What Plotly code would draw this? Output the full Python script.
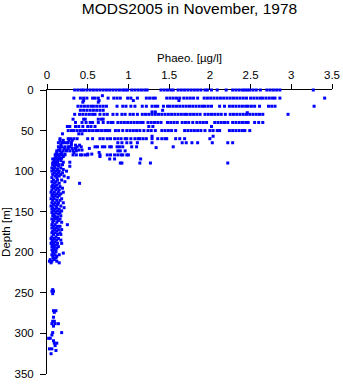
import plotly.graph_objects as go

# ---- data: Phaeo. [ug/l] at sampled depths [m] ----
phaeo_00m = [0.34,0.38,0.42,0.45,0.49,0.53,0.57,0.61,0.65,0.69,0.73,0.77,0.81,0.85,0.89,0.93,0.96,0.99,1.04,
             1.08,1.12,1.16,1.20,1.23,1.40,1.44,1.48,1.52,1.55,1.61,1.65,1.69,1.73,1.77,1.81,1.85,1.89,1.94,
             1.97,2.02,2.09,2.20,2.28,2.32,2.36,2.40,2.43,2.46,2.49,2.53,2.57,2.62,2.70,2.74,2.78,2.82,2.86,3.27]
phaeo_07m = [0.68]
phaeo_10m = [0.33,0.41,0.45,0.49,0.56,0.59,0.63,0.75,0.82,0.86,0.90,0.99,1.03,1.11,1.22,1.26,1.30,1.33,1.47,
             1.51,1.55,1.59,1.63,1.68,1.72,1.76,1.80,1.85,1.93,1.97,2.01,2.05,2.09,2.13,2.17,2.21,2.25,2.29,
             2.33,2.37,2.41,2.45,2.50,2.54,2.58,2.62,2.65,2.69,2.73,2.77,2.80,2.86,3.41]
phaeo_13m = [0.45,0.64,1.06,1.62]
phaeo_15m = [0.44,0.63]
phaeo_20m = [0.38,0.42,0.46,0.50,0.54,0.57,0.61,0.65,0.69,0.73,0.86,0.93,0.97,1.03,1.08,1.17,1.22,1.29,1.33,
             1.36,1.43,1.48,1.51,1.55,1.59,1.63,1.67,1.71,1.75,1.79,1.83,1.87,1.91,1.94,1.98,2.02,2.12,2.18,
             2.24,2.28,2.32,2.36,2.40,2.44,2.47,2.51,2.55,2.61,2.72,2.76,2.80,3.28]
phaeo_25m = [0.41,0.45,0.49,0.53,0.57,0.61,0.65,0.69,1.42]
phaeo_27m = [1.29,1.33]
phaeo_28m = [2.46]
phaeo_30m = [0.34,0.40,0.44,0.48,0.52,0.56,0.59,0.65,0.70,0.74,0.81,0.86,0.92,0.96,1.02,1.06,1.11,1.17,1.21,
             1.25,1.29,1.33,1.37,1.41,1.45,1.49,1.53,1.57,1.61,1.65,1.69,1.72,1.76,1.80,1.84,1.88,1.94,1.98,
             2.02,2.06,2.10,2.14,2.19,2.25,2.29,2.33,2.37,2.41,2.45,2.49,2.53,2.57,2.61,2.65,2.96]
phaeo_36m = [0.32,0.45,0.47,0.63,0.67,0.69]
phaeo_40m = [0.35,0.43,0.48,0.53,0.56,0.63,0.69,0.75,0.79,0.81,0.87,0.91,0.95,0.99,1.03,1.07,1.11,1.15,1.18,
             1.24,1.28,1.32,1.36,1.40,1.48,1.52,1.56,1.60,1.66,1.70,1.74,1.79,1.84,1.88,1.92,1.96,2.06,2.10,
             2.14,2.18,2.22,2.28,2.32,2.36,2.40,2.44,2.47,2.55,2.60,2.65]
phaeo_45m = [0.25,0.28,0.35,0.39,0.44,0.50,0.54,0.59,1.25,1.30,2.02]
phaeo_50m = [0.26,0.30,0.33,0.37,0.41,0.45,0.48,0.52,0.56,0.60,0.63,0.67,0.71,0.74,0.77,0.84,0.88,0.93,0.98,
             1.02,1.06,1.10,1.14,1.19,1.24,1.28,1.33,1.41,1.45,1.49,1.53,1.58,1.69,1.73,1.77,1.81,1.85,1.89,
             1.94,2.00,2.04,2.09,2.12,2.24,2.28,2.32,2.36,2.40,2.43,2.49]
phaeo_54m = [0.19,0.39,0.43]
phaeo_57m = [1.29,2.04]
phaeo_60m = [0.16,0.26,0.29,0.33,0.37,0.50,0.56,0.65,0.69,0.74,0.78,0.83,0.87,0.91,0.96,0.98,1.03,1.08,1.12,
             1.14,1.18,1.22,1.29,1.36,1.41,1.45,1.47,1.58,1.63,1.69,2.00]
phaeo_65m = [0.14,0.18,0.22,0.26,0.30,0.87,0.92,0.98,1.03,1.11,1.29,1.66,1.71,1.78,1.85,2.03,2.22,2.28]
phaeo_70m = [0.14,0.18,0.22,0.26,0.28,0.37,0.42,0.59,0.62,0.68,0.71,0.77,0.79,0.86,0.89,0.93,1.04,1.10,1.55]
phaeo_71m = [1.34]
phaeo_75m = [0.12,0.16,0.20,0.24,0.28,0.32,0.36,0.87,0.90,0.96]
phaeo_80m = [0.10,0.14,0.18,0.22,0.32,0.36,0.41,0.43,0.47,0.50,0.65,0.74,0.78,0.83,0.87,0.91,0.93,0.98,1.00]
phaeo_85m = [0.07,0.11,0.16,0.77,0.83,1.15]
phaeo_90m = [0.07,0.10,0.13,0.90,0.92,1.14,1.27,2.22]

# deeper profile samples: depth and the Phaeo. values found at that depth
deep_depths = [62,65,68,72,74,77,79,82,84,87,89,
               92,94,96,98,100,102,104,106,108,111,113,115,117,119,121,123,126,128,130,132,134,136,
               139,141,143,145,147,149,151,153,155,157,159,161,163,166,168,170,172,174,176,178,181,
               183,185,187,189,191,193,195,197,199,201,203,205,207,209,211,213,
               246,248,251,272,274,280,285,288,291,299,302,306,309,312,315,319,321,325]
deep_values = [[0.16,0.20,0.27,0.31],[0.19,0.25],[0.17,0.30,0.35,0.40],[0.16,0.21,0.26,0.31,0.35,0.52],
               [0.14,0.24,0.39,0.43],[0.12,0.18,0.33,0.64],[0.11,0.16,0.22,0.50,0.55],[0.11,0.15,0.20,0.65],
               [0.10,0.14,0.18],[0.09,0.13,0.17],[0.08,0.12,0.20,0.28],
               [0.07,0.11,0.15,0.19],[0.09,0.14,0.28],[0.06,0.10,0.17],[0.08,0.13,0.20],[0.06,0.11,0.15,0.24],
               [0.09,0.14,0.19],[0.07,0.12,0.17],[0.10,0.15,0.21],[0.06,0.12,0.26],[0.08,0.13,0.18],
               [0.06,0.11,0.22],[0.09,0.15,0.40],[0.07,0.12],[0.06,0.10,0.16],[0.08,0.13,0.19],
               [0.06,0.11,0.15],[0.05,0.09,0.14,0.20],[0.07,0.12,0.17],[0.06,0.10,0.15],[0.08,0.13],
               [0.05,0.09,0.18],[0.07,0.12,0.16],
               [0.06,0.10,0.14,0.20],[0.08,0.13],[0.05,0.11,0.17],[0.07,0.12,0.21],[0.06,0.10,0.15],
               [0.08,0.13,0.18],[0.06,0.11,0.16],[0.08,0.14],[0.07,0.10,0.17],[0.09,0.13],[0.06,0.11,0.16],
               [0.08,0.14],[0.07,0.12,0.18],[0.06,0.10,0.25],[0.08,0.13,0.16],[0.06,0.11],[0.09,0.14,0.18],
               [0.07,0.12],[0.06,0.10,0.16],[0.08,0.13,0.17],[0.06,0.11],
               [0.05,0.09,0.14],[0.07,0.12,0.17],[0.06,0.10],[0.05,0.08,0.13,0.18],[0.07,0.11],
               [0.06,0.09,0.14],[0.08,0.12],[0.06,0.10],[0.07,0.11],[0.08,0.20],[0.06,0.10,0.15],
               [0.07,0.12],[0.08,0.11],[0.04,0.09],[0.03,0.06,0.12],[0.05,0.15],
               [0.07],[0.06,0.08],[0.07],[0.08,0.11],[0.09],[0.08],[0.07,0.09],[0.06,0.10,0.14],[0.08],
               [0.07,0.18],[0.06],[0.02,0.04],[0.08],[0.09,0.12],[0.10],[0.03,0.06],[0.11],[0.05]]

rows = [(0, phaeo_00m), (7, phaeo_07m), (10, phaeo_10m), (13, phaeo_13m), (15, phaeo_15m),
        (20, phaeo_20m), (25, phaeo_25m), (27, phaeo_27m), (28, phaeo_28m), (30, phaeo_30m),
        (36, phaeo_36m), (40, phaeo_40m), (45, phaeo_45m), (50, phaeo_50m), (54, phaeo_54m),
        (57, phaeo_57m), (60, phaeo_60m), (65, phaeo_65m), (70, phaeo_70m), (71, phaeo_71m),
        (75, phaeo_75m), (80, phaeo_80m), (85, phaeo_85m), (90, phaeo_90m)]
rows += list(zip(deep_depths, deep_values))

xs, ys = [], []
for d, vals in rows:
    for v in vals:
        xs.append(v)
        ys.append(d)

x_ticks = [0, 0.5, 1, 1.5, 2, 2.5, 3, 3.5]
y_ticks = [0, 50, 100, 150, 200, 250, 300, 350]

FONT = "Liberation Sans, Arial, Helvetica, sans-serif"

fig = go.Figure(go.Scatter(
    x=xs, y=ys, mode="markers",
    marker=dict(symbol="square", size=3, color="#0000ff", line=dict(width=0)),
    cliponaxis=False, hoverinfo="x+y"))

fig.update_layout(
    width=343, height=384,
    margin=dict(l=47, r=11, t=90, b=10, autoexpand=False),
    paper_bgcolor="white", plot_bgcolor="white",
    showlegend=False,
    font=dict(family=FONT, size=11.5, color="black"),
    title=dict(text="MODS2005 in November, 1978", x=0.5, xref="paper", xanchor="center",
               y=0.978, yref="container", yanchor="middle",
               font=dict(family=FONT, size=15.5, color="black")),
    xaxis=dict(side="top", range=[0, 3.5], tickvals=x_ticks, ticktext=[f"{t:g}" for t in x_ticks],
               ticks="outside", ticklen=5, tickwidth=1, tickcolor="black",
               showline=True, linecolor="black", linewidth=1, mirror=False,
               showgrid=False, zeroline=False, layer="below traces", automargin=False,
               title=dict(text="Phaeo. [µg/l]", standoff=4, font=dict(size=11.5))),
    yaxis=dict(range=[350, 0], tickvals=y_ticks, ticktext=[str(t) for t in y_ticks],
               ticks="outside", ticklen=6, tickwidth=1, tickcolor="black",
               showline=True, linecolor="black", linewidth=1, mirror=False,
               showgrid=False, zeroline=False, layer="below traces", automargin=False,
               ticklabelstandoff=4,
               title=dict(text="Depth [m]", standoff=6, font=dict(size=11.5))),
)

fig.write_html("out.html")
